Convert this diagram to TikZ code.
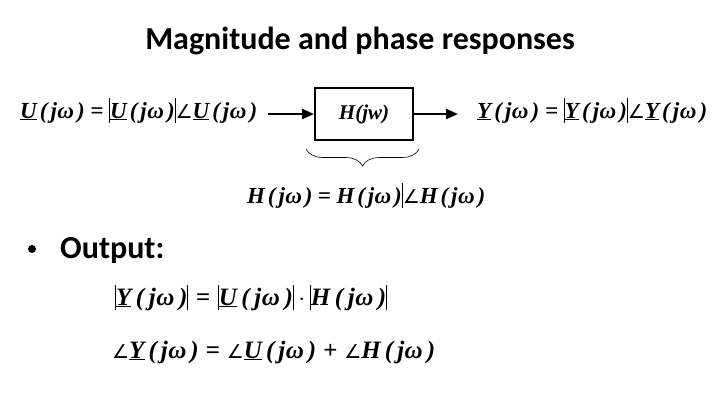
\documentclass[tikz,border=0pt]{standalone}
\usepackage{fontspec}
\usetikzlibrary{arrows.meta,decorations.pathreplacing}
\newfontfamily\titlef{Carlito}
\newfontfamily\eqf{Liberation Serif}
\newfontfamily\symf{DejaVu Sans}
\newcommand\vbr{\rule[-5pt]{0.9pt}{25pt}}
\newcommand\ang{{\symf\mdseries\upshape\fontsize{19}{19}\selectfont ∠}}
\newcommand\gs{\hskip 1pt plus 1fil\relax}
\newcommand\gb{\hskip 3pt plus 1.3fil\relax}
\newcommand\jw{\gs(\gs j\kern0.5pt ω\gs)}
\tikzset{
  eq/.style={inner sep=0pt, anchor=base west, font=\eqf\bfseries\itshape\fontsize{23}{25}\selectfont},
  eqb/.style={eq, font=\eqf\bfseries\itshape\fontsize{25}{27}\selectfont},
  arr/.style={line width=2.2pt, -{Triangle[length=12pt,width=10pt]}},
  blk/.style={draw, line width=2pt, minimum width=98pt, minimum height=52pt, inner sep=0pt,
    font=\eqf\bfseries\itshape\fontsize{21}{22}\selectfont},
  brc/.style={decorate, decoration={brace, mirror, amplitude=17pt}, line width=0.6pt},
  ttl/.style={inner sep=0pt, anchor=base, font=\titlef\bfseries\fontsize{32}{34}\selectfont},
}
\begin{document}
\begin{tikzpicture}[x=1pt,y=-1pt]
\useasboundingbox (0,0) rectangle (720,405);
\node[ttl] (title) at (360,49) {Magnitude and phase responses};
\node[eq] (Ueq) at (20,118) {\hbox to 237pt{\underline{U}\jw\gb=\gb\vbr\underline{U}\jw\vbr\ang\underline{U}\jw}};
\node[blk] (box) at (364,114) {H(jw)};
\node[eq] (Yeq) at (477,118) {\hbox to 230pt{\underline{Y}\jw\gb=\gb\vbr\underline{Y}\jw\vbr\ang\underline{Y}\jw}};
\draw[arr] ([xshift=11pt]Ueq.east |- box.west) -- (box.west);
\draw[arr] (box.east) -- ([xshift=-19pt]Yeq.west |- box.east);
\draw[brc] ([xshift=-8pt,yshift=-8pt]box.south west) -- ([xshift=5pt,yshift=-8pt]box.south east);
\node[eq] (Heq) at (247,203) {\hbox to 238pt{H\jw\gb=\gb H\jw\vbr\ang H\jw}};
\node[circle, fill, inner sep=0pt, minimum size=8pt] (bul) at (32,249) {};
\node[ttl, anchor=base west] (out) at (60,258) {Output:};
\node[eqb] (eq1) at (115,305) {\hbox to 272pt{\vbr\underline{Y}\jw\vbr\gb=\gb\vbr\underline{U}\jw\vbr\gs$\cdot$\gs\vbr H\jw\vbr}};
\node[eqb] (eq2) at (112,358) {\hbox to 323pt{\ang\underline{Y}\jw\gb=\gb\ang\underline{U}\jw\gb+\gb\ang H\jw}};
\end{tikzpicture}
\end{document}
